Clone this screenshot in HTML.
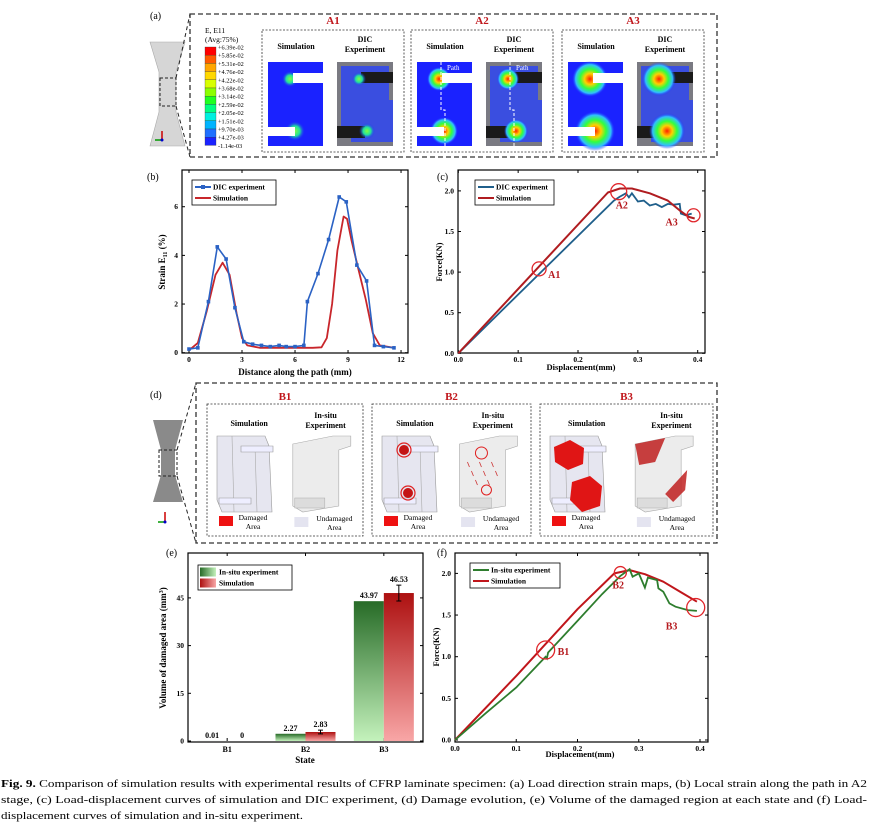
<!DOCTYPE html>
<html><head><meta charset="utf-8">
<style>
html,body{margin:0;padding:0;background:#fff;}
svg{display:block;font-family:"Liberation Serif",serif;}
.t{font-weight:bold;}
</style></head>
<body>
<svg id="fig" width="871" height="827" viewBox="0 0 871 827" xmlns="http://www.w3.org/2000/svg">
<defs>
<radialGradient id="hot"><stop offset="0" stop-color="#ff2000"/><stop offset="0.3" stop-color="#ffd000"/><stop offset="0.55" stop-color="#30ff40"/><stop offset="0.8" stop-color="#30c0ff"/><stop offset="1" stop-color="#1a22ff" stop-opacity="0"/></radialGradient>
<radialGradient id="warm"><stop offset="0" stop-color="#80ff40"/><stop offset="0.5" stop-color="#20e0a0"/><stop offset="1" stop-color="#1a22ff" stop-opacity="0"/></radialGradient>
<linearGradient id="gGreen" x1="0" y1="0" x2="0" y2="1"><stop offset="0" stop-color="#276b27"/><stop offset="1" stop-color="#c4f2bc"/></linearGradient>
<linearGradient id="gRed" x1="0" y1="0" x2="0" y2="1"><stop offset="0" stop-color="#ad1010"/><stop offset="1" stop-color="#f8a6a6"/></linearGradient>
<linearGradient id="lgGreen" x1="0" y1="0" x2="1" y2="0"><stop offset="0" stop-color="#276b27"/><stop offset="1" stop-color="#c4f2bc"/></linearGradient>
<linearGradient id="lgRed" x1="0" y1="0" x2="1" y2="0"><stop offset="0" stop-color="#ad1010"/><stop offset="1" stop-color="#f8a6a6"/></linearGradient>
</defs>

<!-- Panel (a) -->
<g>
  <text x="150" y="19" font-size="10">(a)</text>
  <polygon points="150,42 185,42 176,72 176,112 185,146 150,146 159,112 159,72" fill="#d6d6d6" stroke="#aaa" stroke-width="0.6"/>
  <rect x="160" y="78" width="16" height="28" fill="none" stroke="#222" stroke-dasharray="3,2"/>
  <line x1="176" y1="78" x2="190" y2="14" stroke="#222" stroke-dasharray="4,3"/>
  <line x1="176" y1="106" x2="190" y2="157" stroke="#222" stroke-dasharray="4,3"/>
  <rect x="190" y="14" width="527" height="143" fill="none" stroke="#333" stroke-width="1.3" stroke-dasharray="5,3"/>
  <g><line x1="162" y1="140" x2="162" y2="131" stroke="#c00" stroke-width="1.5"/><line x1="162" y1="140" x2="155" y2="140" stroke="#090" stroke-width="1.5"/><circle cx="162" cy="140" r="1.5" fill="#00c"/></g>
  <g id="colorbar">
    <text x="205" y="33" font-size="7.5">E, E11</text>
    <text x="205" y="42" font-size="7.5">(Avg:75%)</text>
  </g>
</g>

<!-- Panel (d) -->
<g>
  <text x="150" y="398" font-size="10">(d)</text>
  <polygon points="153,420 183,420 175,450 175,475 183,502 153,502 161,475 161,450" fill="#8a8a8a"/>
  <rect x="159" y="450" width="18" height="26" fill="none" stroke="#222" stroke-dasharray="3,2"/>
  <line x1="177" y1="450" x2="196" y2="383" stroke="#222" stroke-dasharray="4,3"/>
  <line x1="177" y1="476" x2="196" y2="543" stroke="#222" stroke-dasharray="4,3"/>
  <rect x="196" y="383" width="521" height="160" fill="none" stroke="#333" stroke-width="1.3" stroke-dasharray="5,3"/>
  <g><line x1="165" y1="522" x2="165" y2="512" stroke="#c00" stroke-width="1.5"/><line x1="165" y1="522" x2="158" y2="522" stroke="#090" stroke-width="1.5"/><circle cx="165" cy="522" r="1.5" fill="#00c"/></g>
</g>

<g id="charts"></g>

<!-- Caption -->
<g font-size="10.5">
  <text x="1" y="787" textLength="866" lengthAdjust="spacingAndGlyphs"><tspan font-weight="bold">Fig. 9.</tspan>  Comparison of simulation results with experimental results of CFRP laminate specimen: (a) Load direction strain maps, (b) Local strain along the path in A2</text>
  <text x="1" y="803" textLength="866" lengthAdjust="spacingAndGlyphs">stage, (c) Load-displacement curves of simulation and DIC experiment, (d) Damage evolution, (e) Volume of the damaged region at each state and (f) Load-</text>
  <text x="1" y="819" textLength="302" lengthAdjust="spacingAndGlyphs">displacement curves of simulation and in-situ experiment.</text>
</g>
</svg>

<script>
// ===== Chart data =====
// (b) strain along path
const bDicX = [0,0.5,1.1,1.6,2.1,2.6,3.1,3.6,4.1,4.6,5.1,5.5,6.0,6.5,6.7,7.3,7.9,8.5,8.9,9.5,10.05,10.5,11.0,11.6];
const bDicY = [0.15,0.2,2.1,4.35,3.85,1.85,0.45,0.35,0.3,0.25,0.3,0.25,0.25,0.3,2.1,3.25,4.65,6.4,6.2,3.6,2.95,0.3,0.25,0.2];
const bSimX = [0,0.5,1.0,1.5,1.9,2.3,2.7,3.0,3.3,4,5,6,7,7.5,7.8,8.1,8.4,8.75,8.95,9.2,9.6,10.0,10.4,10.8,11.6];
const bSimY = [0.1,0.4,1.7,3.2,3.7,3.2,1.6,0.6,0.3,0.2,0.2,0.2,0.2,0.22,0.6,2.0,4.2,5.6,5.5,4.6,3.4,2.2,0.8,0.3,0.2];
const bXTicks = [0,3,6,9,12];
const bYTicks = [0,2,4,6];
// (c) force-displacement DIC
const cDicX = [0,0.26,0.27,0.28,0.285,0.29,0.30,0.31,0.32,0.33,0.34,0.35,0.36,0.37,0.372,0.38,0.39];
const cDicY = [0,1.88,1.93,1.97,1.92,1.97,1.87,1.88,1.82,1.84,1.80,1.84,1.83,1.84,1.72,1.70,1.72];
const cSimX = [0,0.25,0.27,0.29,0.32,0.35,0.37,0.385,0.395];
const cSimY = [0,1.98,2.03,2.03,1.97,1.88,1.76,1.68,1.66];
const cMarkLabels = ["A1","A2","A3"];
const cMarkX = [0.135,0.268,0.393];
const cMarkY = [1.04,1.99,1.70];
const dispTicks = [0,0.1,0.2,0.3,0.4];
const forceTicks = [0,0.5,1.0,1.5,2.0];
// (e) damaged volume
const eStates = ["B1","B2","B3"];
const eExp = [0.01,2.27,43.97];
const eSim = [0,2.83,46.53];
const eSimErr = [0,0.6,2.5];
const eExpLabels = ["0.01","2.27","43.97"];
const eSimLabels = ["0","2.83","46.53"];
const eYTicks = [0,15,30,45];
// (f) in-situ force-displacement
const fExpX = [0,0.05,0.1,0.14,0.148,0.15,0.152,0.2,0.24,0.27,0.285,0.29,0.30,0.31,0.315,0.33,0.332,0.34,0.35,0.36,0.38,0.395];
const fExpY = [0,0.32,0.63,0.94,1.0,0.98,1.05,1.43,1.75,1.97,2.05,1.96,2.0,1.83,1.95,1.92,1.82,1.78,1.64,1.6,1.56,1.55];
const fSimX = [0,0.1,0.2,0.26,0.285,0.31,0.34,0.37,0.395];
const fSimY = [0,0.77,1.57,2.0,2.04,1.99,1.9,1.77,1.66];
const fMarkLabels = ["B1","B2","B3"];
const fMarkX = [0.148,0.27,0.393];
const fMarkY = [1.08,2.01,1.59];
// colorbar
const cbLabels = ["+6.39e-02","+5.85e-02","+5.31e-02","+4.76e-02","+4.22e-02","+3.68e-02","+3.14e-02","+2.59e-02","+2.05e-02","+1.51e-02","+9.70e-03","+4.27e-03","-1.14e-03"];

const NS = "http://www.w3.org/2000/svg";
const root = document.getElementById('charts');
function mk(tag, attrs, parent){const e=document.createElementNS(NS,tag);for(const k in attrs)e.setAttribute(k,attrs[k]);(parent||root).appendChild(e);return e;}
function txt(s, attrs, parent){const e=mk('text',attrs,parent);e.textContent=s;return e;}
function pts(xs,ys,fx,fy){return xs.map((v,i)=>fx(v).toFixed(1)+','+fy(ys[i]).toFixed(1)).join(' ');}

// ===== colorbar =====
const cb = document.getElementById('colorbar');
const cbColors = ["#ff0000","#ff5a00","#ffa600","#ffd800","#d8ff00","#8cff00","#20ff20","#00ff80","#00f0e0","#00b4ff","#2070ff","#1a22ff"];
cbColors.forEach((c,i)=>{
  const r=mk('rect',{x:205,y:47+i*8.2,width:11,height:8.2,fill:c,stroke:'#333','stroke-width':0.3},cb);
  
  
});
cbLabels.forEach((s,i)=>{
  const t=txt(s,{x:218,y:49.5+i*8.2,'font-size':6.3},cb);
  
  
});

// ===== Panel (a) maps =====
const aBoxes=[{n:"A1",x:262},{n:"A2",x:411},{n:"A3",x:562}];
aBoxes.forEach((b,bi)=>{
  const g=mk('g',{});
  
  
  const w=142;
  mk('rect',{x:b.x,y:30,width:w,height:122,fill:'none',stroke:'#333','stroke-width':0.8,'stroke-dasharray':'2,1.5'},g);
  const tt=txt(b.n,{x:b.x+w/2,y:24,'font-size':11,'font-weight':'bold',fill:'#c0161b','text-anchor':'middle'},g);
  
  
  const sx=b.x+6, dx=b.x+75;
  const s1=txt('Simulation',{x:sx+28,y:49,'font-size':8,'font-weight':'bold','text-anchor':'middle'},g);
  
  
  const d1=txt('DIC',{x:dx+28,y:42,'font-size':8,'font-weight':'bold','text-anchor':'middle'},g);
  
  
  const d2=txt('Experiment',{x:dx+28,y:52,'font-size':8,'font-weight':'bold','text-anchor':'middle'},g);
  
  
  const si=mk('g',{},g);
  
  
  mk('rect',{x:sx,y:62,width:55,height:84,fill:'#1a22ff'},si);
  const hotR=[8,12,18][bi];
  mk('circle',{cx:sx+22,cy:79,r:hotR,fill:bi===0?'url(#warm)':'url(#hot)'},si);
  mk('circle',{cx:sx+27,cy:131,r:hotR+2,fill:bi===0?'url(#warm)':'url(#hot)'},si);
  mk('rect',{x:sx+25,y:73,width:30,height:10,fill:'#fff'},si);
  mk('rect',{x:sx,y:127,width:27,height:9,fill:'#fff'},si);
  const di=mk('g',{},g);
  
  
  mk('rect',{x:dx,y:62,width:56,height:84,fill:'#7a7a82'},di);
  mk('rect',{x:dx+4,y:66,width:48,height:60,fill:'#3a4ee0'},di);
  mk('rect',{x:dx+14,y:100,width:42,height:42,fill:'#3a4ee0'},di);
  mk('rect',{x:dx+24,y:72,width:32,height:11,fill:'#1a1a1a'},di);
  mk('rect',{x:dx,y:126,width:28,height:12,fill:'#1a1a1a'},di);
  mk('circle',{cx:dx+22,cy:79,r:hotR-1,fill:bi===0?'url(#warm)':'url(#hot)'},di);
  mk('circle',{cx:dx+30,cy:131,r:hotR,fill:bi===0?'url(#warm)':'url(#hot)'},di);
  if(bi===1){
    [sx+24,dx+24].forEach((px,k)=>{
      const p=mk('polyline',{points:`${px},62 ${px},110 ${px+4},110 ${px+4},146`,fill:'none',stroke:'#fff','stroke-width':1,'stroke-dasharray':'3,2'},g);
      
      
      const pl=txt('Path',{x:px+6,y:70,'font-size':7,fill:'#fff'},g);
      
      
    });
  }
});

// ===== Panel (d) damage =====
const dBoxes=[{n:"B1",x:207,w:156},{n:"B2",x:372,w:159},{n:"B3",x:540,w:173}];
dBoxes.forEach((b,bi)=>{
  const g=mk('g',{});
  
  
  mk('rect',{x:b.x,y:404,width:b.w,height:132,fill:'none',stroke:'#333','stroke-width':0.8,'stroke-dasharray':'2,1.5'},g);
  const tt=txt(b.n,{x:b.x+b.w/2,y:400,'font-size':11,'font-weight':'bold',fill:'#c0161b','text-anchor':'middle'},g);
  
  
  const sx=b.x+10, ex=b.x+b.w*0.55;
  const s1=txt('Simulation',{x:b.x+b.w*0.27,y:426,'font-size':8,'font-weight':'bold','text-anchor':'middle'},g);
  
  
  const e1=txt('In-situ',{x:b.x+b.w*0.76,y:418,'font-size':8,'font-weight':'bold','text-anchor':'middle'},g);
  
  
  const e2=txt('Experiment',{x:b.x+b.w*0.76,y:428,'font-size':8,'font-weight':'bold','text-anchor':'middle'},g);
  
  
  const si=mk('g',{},g);
  
  
  mk('polygon',{points:`${sx},436 ${sx+48},436 ${sx+52},446 ${sx+55},512 ${sx+5},512 ${sx},500`,fill:'#e6e6f0',stroke:'#999','stroke-width':0.6},si);
  mk('line',{x1:sx+15,y1:436,x2:sx+17,y2:512,stroke:'#aaa','stroke-width':0.6},si);
  mk('line',{x1:sx+38,y1:446,x2:sx+40,y2:512,stroke:'#aaa','stroke-width':0.6},si);
  mk('polygon',{points:`${sx+24},446 ${sx+56},446 ${sx+56},452 ${sx+24},452`,fill:'#eef',stroke:'#999','stroke-width':0.6},si);
  mk('polygon',{points:`${sx+2},498 ${sx+34},498 ${sx+34},504 ${sx+2},504`,fill:'#eef',stroke:'#999','stroke-width':0.6},si);
  const ei=mk('g',{},g);
  
  
  mk('polygon',{points:`${ex},444 ${ex+40},436 ${ex+58},436 ${ex+58},446 ${ex+46},450 ${ex+46},506 ${ex+10},512 ${ex},506`,fill:'#ececec',stroke:'#aaa','stroke-width':0.6},ei);
  mk('rect',{x:ex+2,y:498,width:30,height:10,fill:'#dcdcdc',stroke:'#aaa','stroke-width':0.5},ei);
  if(bi===1){
    [[sx+22,450,7],[sx+26,493,7]].forEach(c=>{
      mk('circle',{cx:c[0],cy:c[1],r:c[2]-2,fill:'#c41515'},si);
      mk('circle',{cx:c[0],cy:c[1],r:c[2],fill:'none',stroke:'#e02020','stroke-width':1.2},si);
    });
    mk('circle',{cx:ex+22,cy:453,r:6,fill:'none',stroke:'#e02020','stroke-width':1},ei);
    mk('circle',{cx:ex+27,cy:490,r:5,fill:'none',stroke:'#e02020','stroke-width':1},ei);
    for(let k=0;k<8;k++) mk('line',{x1:ex+8+k*4,y1:462+(k%3)*9,x2:ex+10+k*4,y2:467+(k%3)*9,stroke:'#c33','stroke-width':0.8},ei);
  }
  if(bi===2){
    mk('polygon',{points:`${sx+4},447 ${sx+20},440 ${sx+34},448 ${sx+33},464 ${sx+18},470 ${sx+5},462`,fill:'#e01515'},si);
    mk('polygon',{points:`${sx+22},482 ${sx+40},476 ${sx+52},486 ${sx+50},506 ${sx+32},512 ${sx+20},500`,fill:'#e01515'},si);
    mk('polygon',{points:`${ex},444 ${ex+30},438 ${ex+20},462 ${ex+4},465`,fill:'#c02020',opacity:0.85},ei);
    mk('polygon',{points:`${ex+30},494 ${ex+52},470 ${ex+50},490 ${ex+38},502`,fill:'#c02020',opacity:0.85},ei);
  }
  const l1=mk('rect',{x:b.x+12,y:516,width:14,height:10,fill:'#ee1111'},g);
  
  
  const lt1=txt('Damaged',{x:b.x+46,y:520,'font-size':7.5,'text-anchor':'middle'},g);
  
  
  txt('Area',{x:b.x+46,y:529,'font-size':7.5,'text-anchor':'middle'},g);
  const l2=mk('rect',{x:b.x+b.w*0.56,y:517,width:14,height:10,fill:'#e4e4f0'},g);
  
  
  const lt2=txt('Undamaged',{x:b.x+b.w*0.56+40,y:521,'font-size':7.5,'text-anchor':'middle'},g);
  
  
  txt('Area',{x:b.x+b.w*0.56+40,y:530,'font-size':7.5,'text-anchor':'middle'},g);
});

// ===== generic axes =====
function axes(g,fr,fx,fy,xt,yt,xfmt,yfmt){
  const f=mk('rect',{x:fr.x0,y:fr.y0,width:fr.x1-fr.x0,height:fr.y1-fr.y0,fill:'none',stroke:'#000','stroke-width':1.2},g);
  
  
  xt.forEach(v=>{
    const X=fx(v);
    mk('line',{x1:X,y1:fr.y1,x2:X,y2:fr.y1-3,stroke:'#000'},g);
    mk('line',{x1:X,y1:fr.y0,x2:X,y2:fr.y0+3,stroke:'#000'},g);
    const t=txt(xfmt(v),{x:X,y:fr.y1+9,'font-size':7.5,'font-weight':'bold','text-anchor':'middle'},g);
    
    
  });
  yt.forEach(v=>{
    const Y=fy(v);
    mk('line',{x1:fr.x0,y1:Y,x2:fr.x0+3,y2:Y,stroke:'#000'},g);
    mk('line',{x1:fr.x1,y1:Y,x2:fr.x1-3,y2:Y,stroke:'#000'},g);
    const t=txt(yfmt(v),{x:fr.x0-4,y:Y+2.5,'font-size':7.5,'font-weight':'bold','text-anchor':'end'},g);
    
    
  });
}
function legendBox(g,x,y,w,items){
  const r=mk('rect',{x:x,y:y,width:w,height:items.length*11+3,fill:'#fff',stroke:'#000','stroke-width':0.8},g);
  
  
  items.forEach((it,i)=>{
    const yy=y+7+i*11;
    if(it.fill){mk('rect',{x:x+2,y:yy-4.5,width:16,height:9,fill:it.fill},g);}
    else{mk('line',{x1:x+3,y1:yy,x2:x+19,y2:yy,stroke:it.c,'stroke-width':2},g);
      if(it.m) mk('rect',{x:x+9,y:yy-2,width:4,height:4,fill:it.c},g);}
    const t=txt(it.t,{x:x+21,y:yy+2.7,'font-size':7.5,'font-weight':'bold'},g);
    
    
  });
}
function markers(g,fx,fy,xs,ys,labels,rs,offs){
  xs.forEach((v,i)=>{
    const c=mk('circle',{cx:fx(v),cy:fy(ys[i]),r:rs[i],fill:'none',stroke:'#e0262b','stroke-width':1.3},g);
    
    
    const t=txt(labels[i],{x:fx(v)+offs[i][0],y:fy(ys[i])+offs[i][1],'font-size':10,'font-weight':'bold',fill:'#b5191e'},g);
    
    
  });
}

// ===== Chart (b) =====
{
  const g=mk('g',{});
  
  
  const fx=v=>189+v*17.67, fy=v=>352.7-v*24.33;
  const lb=txt('(b)',{x:147,y:180,'font-size':10},g);
  
  
  axes(g,{x0:182,y0:170,x1:408,y1:353},fx,fy,bXTicks,bYTicks,v=>String(v),v=>String(v));
  const s=mk('polyline',{points:pts(bSimX,bSimY,fx,fy),fill:'none',stroke:'#c8262b','stroke-width':1.8,'stroke-linejoin':'round'},g);
  
  
  const d=mk('polyline',{points:pts(bDicX,bDicY,fx,fy),fill:'none',stroke:'#2b62c4','stroke-width':1.6},g);
  
  
  bDicX.forEach((v,i)=>{
    const m=mk('rect',{x:fx(v)-1.8,y:fy(bDicY[i])-1.8,width:3.6,height:3.6,fill:'#2b62c4'},g);
    
    
  });
  legendBox(g,192,180,84,[{t:'DIC experiment',c:'#2b62c4',m:1},{t:'Simulation',c:'#c8262b'}]);
  const xt=txt('Distance along the path (mm)',{x:295,y:375,'font-size':9,'font-weight':'bold','text-anchor':'middle'},g);
  
  
  const yt=mk('text',{x:0,y:0,'font-size':9,'font-weight':'bold','text-anchor':'middle',transform:'translate(165,262) rotate(-90)'},g);
  yt.innerHTML='Strain E<tspan font-size="6" dy="2">11</tspan><tspan dy="-2"> (%)</tspan>';
  
  
}

// ===== Chart (c) =====
{
  const g=mk('g',{});
  
  
  const fx=v=>458.3+v*598.5, fy=v=>353.3-v*81.2;
  const lb=txt('(c)',{x:437,y:180,'font-size':10},g);
  
  
  axes(g,{x0:458,y0:170,x1:705,y1:353},fx,fy,dispTicks,forceTicks,v=>v.toFixed(1),v=>v.toFixed(1));
  const d=mk('polyline',{points:pts(cDicX,cDicY,fx,fy),fill:'none',stroke:'#1f5f8b','stroke-width':1.8},g);
  
  
  const s=mk('polyline',{points:pts(cSimX,cSimY,fx,fy),fill:'none',stroke:'#b01c20','stroke-width':2,'stroke-linejoin':'round'},g);
  
  
  markers(g,fx,fy,cMarkX,cMarkY,cMarkLabels,[7,8,6.5],[[9,9],[-3,17],[-28,10]]);
  legendBox(g,475,180,79,[{t:'DIC experiment',c:'#1f5f8b'},{t:'Simulation',c:'#b01c20'}]);
  const xt=txt('Displacement(mm)',{x:581,y:370,'font-size':8.5,'font-weight':'bold','text-anchor':'middle'},g);
  
  
  const yt=txt('Force(KN)',{x:0,y:0,'font-size':8.5,'font-weight':'bold','text-anchor':'middle',transform:'translate(442,262) rotate(-90)'},g);
  
  
}

// ===== Chart (e) =====
{
  const g=mk('g',{});
  
  
  const fy=v=>741-v*3.18;
  const x0=188,x1=423, step=(x1-x0)/3;
  const cx=i=>x0+step*(i+0.5);
  const lb=txt('(e)',{x:166,y:556,'font-size':10},g);
  
  
  const f=mk('rect',{x:x0,y:553,width:x1-x0,height:189,fill:'none',stroke:'#000','stroke-width':1.2},g);
  
  
  eYTicks.forEach(v=>{
    mk('line',{x1:x0,y1:fy(v),x2:x0+3,y2:fy(v),stroke:'#000'},g);
    mk('line',{x1:x1,y1:fy(v),x2:x1-3,y2:fy(v),stroke:'#000'},g);
    const t=txt(String(v),{x:x0-4,y:fy(v)+2.5,'font-size':7.5,'font-weight':'bold','text-anchor':'end'},g);
    
    
  });
  const bw=30;
  eStates.forEach((s,i)=>{
    mk('line',{x1:cx(i),y1:741,x2:cx(i),y2:738,stroke:'#000'},g);
    mk('line',{x1:cx(i),y1:553,x2:cx(i),y2:556,stroke:'#000'},g);
    const t=txt(s,{x:cx(i),y:752,'font-size':8,'font-weight':'bold','text-anchor':'middle'},g);
    
    
    const be=mk('rect',{x:cx(i)-bw,y:fy(eExp[i]),width:bw,height:741-fy(eExp[i]),fill:'url(#gGreen)'},g);
    
    
    const bs=mk('rect',{x:cx(i),y:fy(eSim[i]),width:bw,height:741-fy(eSim[i]),fill:'url(#gRed)'},g);
    
    
    if(eSimErr[i]>0){
      const ex=cx(i)+bw/2;
      const eb=mk('path',{d:`M${ex},${fy(eSim[i]+eSimErr[i])}V${fy(eSim[i]-eSimErr[i])}M${ex-2.5},${fy(eSim[i]+eSimErr[i])}h5M${ex-2.5},${fy(eSim[i]-eSimErr[i])}h5`,stroke:'#000','stroke-width':1,fill:'none'},g);
      
      
    }
    const v1=txt(eExpLabels[i],{x:cx(i)-bw/2,y:fy(eExp[i])-3,'font-size':8,'font-weight':'bold','text-anchor':'middle'},g);
    
    
    const v2=txt(eSimLabels[i],{x:cx(i)+bw/2,y:fy(eSim[i]+eSimErr[i])-3,'font-size':8,'font-weight':'bold','text-anchor':'middle'},g);
    
    
  });
  legendBox(g,198,565,94,[{t:'In-situ experiment',fill:'url(#lgGreen)'},{t:'Simulation',fill:'url(#lgRed)'}]);
  const xt=txt('State',{x:305,y:763,'font-size':9,'font-weight':'bold','text-anchor':'middle'},g);
  
  
  const yt=mk('text',{x:0,y:0,'font-size':9,'font-weight':'bold','text-anchor':'middle',transform:'translate(166,648) rotate(-90)'},g);
  yt.innerHTML='Volume of damaged area (mm<tspan font-size="6" dy="-3">3</tspan><tspan dy="3">)</tspan>';
  
  
}

// ===== Chart (f) =====
{
  const g=mk('g',{});
  
  
  const fx=v=>455+v*612.5, fy=v=>740-v*83.3;
  const lb=txt('(f)',{x:437,y:556,'font-size':10},g);
  
  
  axes(g,{x0:455,y0:553,x1:708,y1:742},fx,fy,dispTicks,forceTicks,v=>v.toFixed(1),v=>v.toFixed(1));
  const s=mk('polyline',{points:pts(fSimX,fSimY,fx,fy),fill:'none',stroke:'#c0161b','stroke-width':2,'stroke-linejoin':'round'},g);
  
  
  const e=mk('polyline',{points:pts(fExpX,fExpY,fx,fy),fill:'none',stroke:'#2e7d2e','stroke-width':1.8},g);
  
  
  markers(g,fx,fy,fMarkX,fMarkY,fMarkLabels,[9,6,9],[[12,5],[-8,16],[-30,22]]);
  legendBox(g,470,563,90,[{t:'In-situ experiment',c:'#2e7d2e'},{t:'Simulation',c:'#c0161b'}]);
  const xt=txt('Displacement(mm)',{x:580,y:757,'font-size':8.5,'font-weight':'bold','text-anchor':'middle'},g);
  
  
  const yt=txt('Force(KN)',{x:0,y:0,'font-size':8.5,'font-weight':'bold','text-anchor':'middle',transform:'translate(439,647) rotate(-90)'},g);
  
  
}
</script>
</body></html>
